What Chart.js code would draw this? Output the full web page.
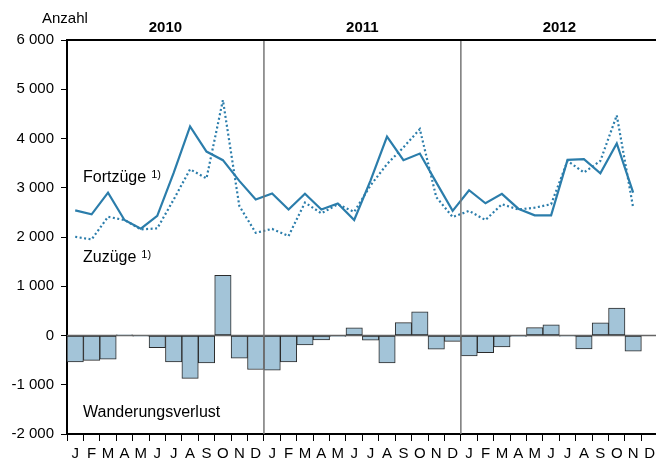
<!DOCTYPE html>
<html lang="de">
<head>
<meta charset="utf-8">
<script src="https://cdn.jsdelivr.net/npm/chart.js@4"></script>
<style>
    html, body { margin: 0; padding: 0; background: #fff; overflow: hidden; }
    #wrap { width: 659px; height: 461px; position: relative; }
</style>
</head>
<body>
<div id="wrap"><canvas id="wanderChart"></canvas></div>
<script>
const years = ['2010', '2011', '2012'];
const monthLetters = ['J', 'F', 'M', 'A', 'M', 'J', 'J', 'A', 'S', 'O', 'N', 'D'];
const yTicks = [-2000, -1000, 0, 1000, 2000, 3000, 4000, 5000, 6000];

const fortzuege = [
    2540, 2460, 2900, 2345, 2170, 2430, 3300, 4245, 3735, 3560, 3140, 2760,
    2885, 2560, 2880, 2560, 2680, 2345, 3150, 4040, 3560, 3695, 3110, 2530,
    2950, 2685, 2875, 2575, 2440, 2440, 3565, 3580, 3295, 3900, 2900, null
];
const zuzuege = [
    2005, 1950, 2410, 2345, 2155, 2175, 2760, 3375, 3190, 4780, 2630, 2085,
    2165, 2020, 2700, 2480, 2665, 2510, 3050, 3480, 3820, 4190, 2810, 2405,
    2530, 2345, 2665, 2560, 2595, 2665, 3545, 3310, 3545, 4470, 2595, null
];
const saldo = [
    -535, -505, -480, 15, -15, -245, -535, -870, -555, 1220, -460, -690,
    -705, -535, -190, -90, -20, 155, -95, -555, 260, 480, -280, -120,
    -415, -350, -230, -20, 160, 215, -15, -270, 255, 555, -320, null
];

const labels = [];
years.forEach(() => monthLetters.forEach(m => labels.push(m)));

const FONT = "'Liberation Sans', Arial, sans-serif";
const LINE = '#2b7dab';

const frame = {
    id: 'frame',
    beforeDatasetsDraw(chart) {
        const { ctx, chartArea: a, scales: { y } } = chart;
        ctx.save();
        // Nulllinie
        ctx.strokeStyle = '#666';
        ctx.lineWidth = 1.5;
        ctx.beginPath();
        ctx.moveTo(a.left, y.getPixelForValue(0));
        ctx.lineTo(a.right, y.getPixelForValue(0));
        ctx.stroke();
        ctx.restore();
    },
    afterDatasetsDraw(chart) {
        const { ctx, chartArea: a, scales: { x } } = chart;
        ctx.save();
        // Jahrestrenner
        ctx.strokeStyle = '#777';
        ctx.lineWidth = 1.5;
        for (let i = 1; i < years.length; i++) {
            const px = (x.getPixelForValue(i * 12 - 1) + x.getPixelForValue(i * 12)) / 2;
            ctx.beginPath();
            ctx.moveTo(px, a.top);
            ctx.lineTo(px, a.bottom);
            ctx.stroke();
        }
        // obere Linie
        ctx.strokeStyle = '#000';
        ctx.lineWidth = 2;
        ctx.beginPath();
        ctx.moveTo(a.left - 1, a.top);
        ctx.lineTo(a.right, a.top);
        ctx.stroke();

        ctx.fillStyle = '#000';
        ctx.textBaseline = 'middle';
        ctx.font = 'bold 15px ' + FONT;
        ctx.textAlign = 'center';
        years.forEach((yr, i) => {
            const cx = (x.getPixelForValue(i * 12) + x.getPixelForValue(i * 12 + 11)) / 2;
            ctx.fillText(yr, cx, 28);
        });

        ctx.textAlign = 'left';
        ctx.font = '15px ' + FONT;
        ctx.fillText('Anzahl', 42, 19);

        const note = (txt, px, py) => {
            ctx.font = '16px ' + FONT;
            ctx.fillText(txt, px, py);
            const w = ctx.measureText(txt).width;
            ctx.font = '11px ' + FONT;
            ctx.fillText('1)', px + w + 5, py - 3);
        };
        note('Fortzüge', 83, 178);
        note('Zuzüge', 83, 258);
        ctx.font = '16px ' + FONT;
        ctx.fillText('Wanderungsverlust', 83, 413);
        ctx.restore();
    }
};

new Chart(document.getElementById('wanderChart'), {
    type: 'bar',
    data: {
        labels: labels,
        datasets: [
            {
                type: 'line',
                label: 'Fortzüge',
                data: fortzuege,
                borderColor: LINE,
                borderWidth: 2.2,
                pointRadius: 0,
                tension: 0,
                order: 0
            },
            {
                type: 'line',
                label: 'Zuzüge',
                data: zuzuege,
                borderColor: LINE,
                borderWidth: 2.2,
                borderDash: [2, 2.5],
                pointRadius: 0,
                tension: 0,
                order: 1
            },
            {
                label: 'Wanderungsverlust',
                data: saldo,
                backgroundColor: '#a3c4d8',
                borderColor: '#2b2b2b',
                borderWidth: 1,
                borderSkipped: false,
                barPercentage: 1,
                categoryPercentage: 1,
                order: 2
            }
        ]
    },
    options: {
        responsive: true,
        maintainAspectRatio: false,
        animation: false,
        layout: { padding: { top: 40, left: 0, right: 0, bottom: 0 } },
        plugins: { legend: { display: false }, tooltip: { enabled: false } },
        scales: {
            x: {
                grid: { display: true, drawOnChartArea: false, offset: true, tickLength: 7, color: '#000', lineWidth: 1 },
                border: { color: '#000', width: 2 },
                ticks: { autoSkip: false, maxRotation: 0, padding: 4, color: '#000', font: { family: FONT, size: 15 } },
                afterFit: s => { s.height = 27; }
            },
            y: {
                min: yTicks[0],
                max: yTicks[yTicks.length - 1],
                afterBuildTicks: s => { s.ticks = yTicks.map(v => ({ value: v })); },
                grid: { drawOnChartArea: false, tickLength: 6, color: '#000', lineWidth: 1 },
                border: { color: '#000', width: 2 },
                ticks: {
                    padding: 7,
                    color: '#000',
                    font: { family: FONT, size: 15 },
                    callback: v => String(v).replace(/\B(?=(\d{3})+(?!\d))/g, ' ')
                },
                afterFit: s => { s.width = 67; }
            }
        }
    },
    plugins: [frame]
});
</script>
</body>
</html>
